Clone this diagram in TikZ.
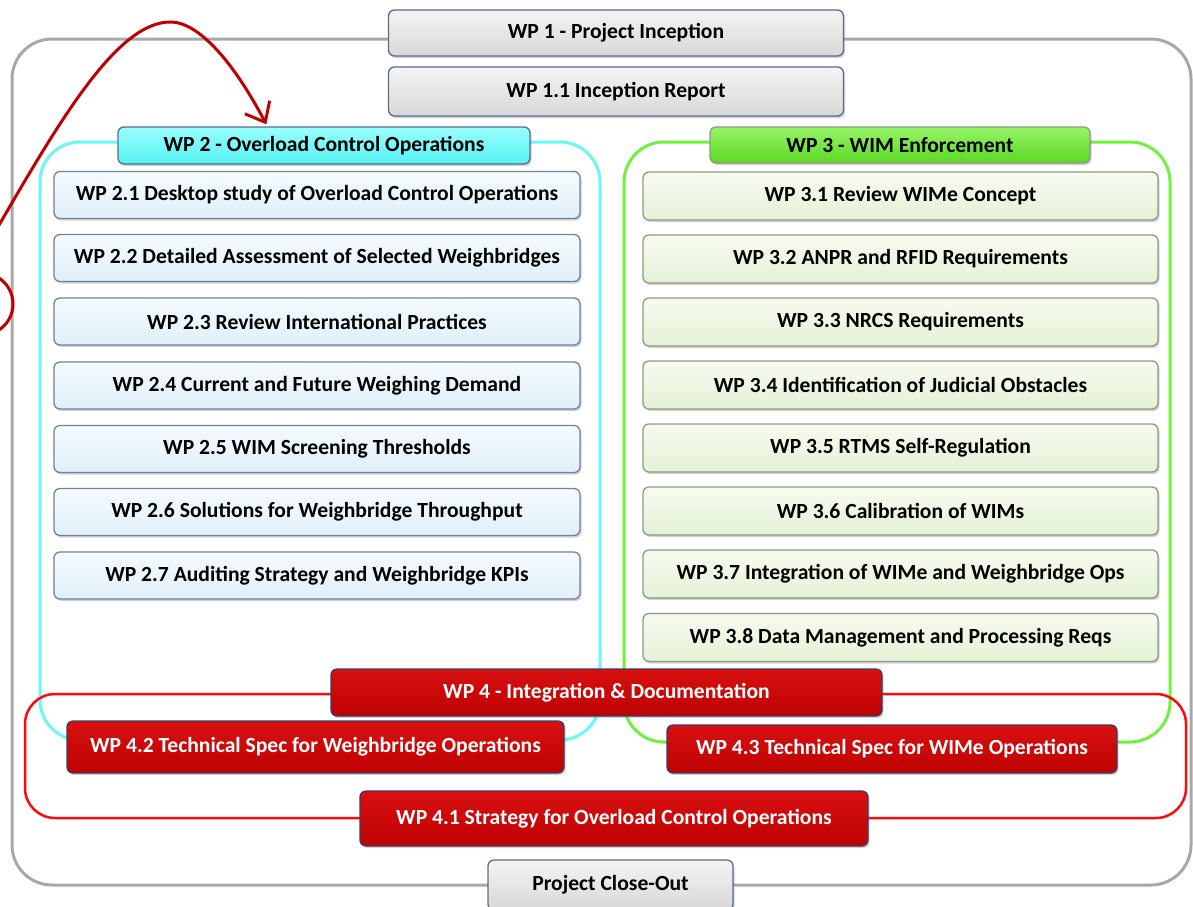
\documentclass[tikz,border=0pt]{standalone}
\usepackage{fontspec}
\setmainfont{Carlito}
\usetikzlibrary{arrows.meta,shadows,calc}
\definecolor{greyA}{HTML}{F4F4F4}
\definecolor{greyB}{HTML}{D8D8D8}
\definecolor{edgeblue}{HTML}{5A6B8C}
\definecolor{cyanA}{HTML}{9AFFFF}
\definecolor{cyanB}{HTML}{55F2F2}
\definecolor{blueA}{HTML}{F6FBFE}
\definecolor{blueB}{HTML}{E0EFF9}
\definecolor{greenA}{HTML}{96F566}
\definecolor{greenB}{HTML}{5CD824}
\definecolor{lgreenA}{HTML}{F7FBF0}
\definecolor{lgreenB}{HTML}{E4F1D6}
\definecolor{edgegreen}{HTML}{8C9A84}
\definecolor{redA}{HTML}{D81010}
\definecolor{redB}{HTML}{BE0202}
\definecolor{edgered}{HTML}{3C3C66}
\definecolor{lineGrey}{HTML}{A8A8A8}
\definecolor{lineCyan}{HTML}{6CF6F6}
\definecolor{lineGreen}{HTML}{70F040}
\definecolor{lineRed}{HTML}{FF0A0A}
\definecolor{arrowRed}{HTML}{C00000}
\begin{document}
\begin{tikzpicture}[x=1pt,y=-1pt,
  box/.style={rounded corners=6pt, line width=1.3pt, inner sep=0pt,
    font=\fontsize{21.6}{24}\selectfont\bfseries,
    drop shadow={shadow xshift=1.5pt,shadow yshift=-2pt,opacity=0.35}},
  greybox/.style={box, draw=edgeblue, top color=greyA, bottom color=greyB},
  cyanbox/.style={box, draw=edgeblue, top color=cyanA, bottom color=cyanB},
  bluebox/.style={box, draw=edgeblue!85, top color=blueA, bottom color=blueB},
  greenbox/.style={box, draw=edgegreen, top color=greenA, bottom color=greenB},
  lgreenbox/.style={box, draw=edgegreen, top color=lgreenA, bottom color=lgreenB},
  redbox/.style={box, draw=edgered, top color=redA, bottom color=redB, text=white},
  frame/.style={line width=3pt, rounded corners=40pt},
  redarrow/.style={draw=arrowRed, line width=3pt, -{Straight Barb[length=17pt,width=28pt]}}
]
\useasboundingbox (0,0) rectangle (1193,906);
\clip (0,0) rectangle (1193,906);
\fill[white] (0,0) rectangle (1193,906);

% containers
\draw[frame, draw=lineGrey] (12,39) rectangle (1191,885);
\draw[frame, draw=lineCyan] (40,142) rectangle (600,740);
\draw[frame, draw=lineGreen] (624,142) rectangle (1170,742);
\draw[frame, draw=lineRed, line width=2.5pt, rounded corners=30pt] (25,694) rectangle (1186,818);

% WP1
\node[greybox, minimum width=455, minimum height=46] (wp1) at (616,33) {WP 1 - Project Inception};
\node[greybox, minimum width=455, minimum height=49] (wp11) at (616,91.5) {WP 1.1 Inception Report};

% WP2
\node[cyanbox, minimum width=412, minimum height=37] (wp2h) at (324,145.5) {WP 2 - Overload Control Operations};
\foreach \n/\y/\t in {1/195/{WP 2.1 Desktop study of Overload Control Operations},
  2/258/{WP 2.2 Detailed Assessment of Selected Weighbridges},
  3/321.5/{WP 2.3 Review International Practices},
  4/385.5/{WP 2.4 Current and Future Weighing Demand},
  5/449/{WP 2.5 WIM Screening Thresholds},
  6/512/{WP 2.6 Solutions for Weighbridge Throughput},
  7/575.5/{WP 2.7 Auditing Strategy and Weighbridge KPIs}}
  \node[bluebox, minimum width=526, minimum height=47] (wp2\n) at (317,\y) {\t};

% WP3
\node[greenbox, minimum width=380, minimum height=36] (wp3h) at (900,145) {WP 3 - WIM Enforcement};
\foreach \n/\y/\t in {1/196/{WP 3.1 Review WIMe Concept},
  2/259/{WP 3.2 ANPR and RFID Requirements},
  3/322/{WP 3.3 NRCS Requirements},
  4/385/{WP 3.4 Identification of Judicial Obstacles},
  5/448/{WP 3.5 RTMS Self-Regulation},
  6/511/{WP 3.6 Calibration of WIMs},
  7/574/{WP 3.7 Integration of WIMe and Weighbridge Ops},
  8/637.5/{WP 3.8 Data Management and Processing Reqs}}
  \node[lgreenbox, minimum width=515, minimum height=48] (wp3\n) at (900.5,\y) {\t};

% WP4
\node[redbox, minimum width=551, minimum height=47] (wp4h) at (606.5,692.5) {WP 4 - Integration \& Documentation};
\node[redbox, minimum width=497, minimum height=52] (wp42) at (315.5,747) {WP 4.2 Technical Spec for Weighbridge Operations};
\node[redbox, minimum width=450, minimum height=48] (wp43) at (892,749) {WP 4.3 Technical Spec for WIMe Operations};
\node[redbox, minimum width=508, minimum height=55] (wp41) at (614,818.5) {WP 4.1 Strategy for Overload Control Operations};

% close-out
\node[greybox, minimum width=245, minimum height=50] (close) at (610.5,885) {Project Close-Out};

% red annotation
\coordinate (arrowstart) at (-5,232);
\draw[redarrow] (arrowstart) .. controls (60,120) and (118,20) .. (172,22)
  .. controls (195,23) and (228,52) .. ($(wp2h.north west)+(149,-2)$);
\draw[draw=arrowRed, line width=3pt] (-18,304) circle (31);
\end{tikzpicture}
\end{document}
